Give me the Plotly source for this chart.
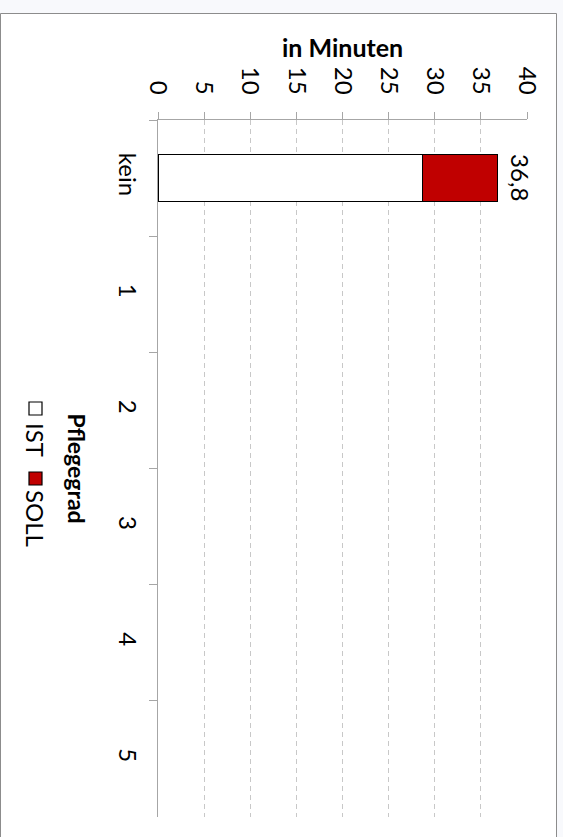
import plotly.graph_objects as go

# ---- data ----
categories = ["kein", "1", "2", "3", "4", "5"]
ist = [28.7, None, None, None, None, None]
soll = [8.1, None, None, None, None, None]
x_ticks = [0, 5, 10, 15, 20, 25, 30, 35, 40]
value_title = "in Minuten"
cat_title = "Pflegegrad"
series_names = ["IST", "SOLL"]
colors = ["#ffffff", "#c00000"]

W, H = 563, 837
L, R, T, B = 158, 527, 120, 817
FONT = "Lato, 'Open Sans', sans-serif"
FS = 24


def fx(px):
    return (px - L) / (R - L)


def fy(py):
    return (B - py) / (B - T)


totals = [(a + b) if (a is not None and b is not None) else None for a, b in zip(ist, soll)]

fig = go.Figure()
fig.add_trace(go.Bar(y=categories, x=ist, name=series_names[0], orientation="h",
                     marker=dict(color=colors[0], line=dict(color="#000000", width=1.2)),
                     width=0.4, showlegend=False))
fig.add_trace(go.Bar(y=categories, x=soll, name=series_names[1], orientation="h",
                     marker=dict(color=colors[1], line=dict(color="#000000", width=1.2)),
                     width=0.4, showlegend=False))

annotations = []
for c, t in zip(categories, totals):
    if t is None:
        continue
    annotations.append(dict(x=t, y=c, xref="x", yref="y", text=f"{t:.1f}".replace(".", ","),
                            textangle=90, showarrow=False, xanchor="left", yanchor="middle",
                            xshift=7, font=dict(family=FONT, size=FS, color="#000")))

# axis titles
annotations.append(dict(x=0.5, y=fy(47), xref="paper", yref="paper", text=f"<b>{value_title}</b>",
                        showarrow=False, xanchor="center", yanchor="middle",
                        font=dict(family=FONT, size=25, color="#000")))
annotations.append(dict(x=fx(77), y=0.5, xref="paper", yref="paper", text=f"<b>{cat_title}</b>",
                        textangle=90, showarrow=False, xanchor="center", yanchor="middle",
                        font=dict(family=FONT, size=23, color="#000")))

# legend (rotated)
annotations.append(dict(x=fx(36), y=fy(440), xref="paper", yref="paper", text=series_names[0],
                        textangle=90, showarrow=False, xanchor="center", yanchor="middle",
                        font=dict(family=FONT, size=FS, color="#000")))
annotations.append(dict(x=fx(36), y=fy(519), xref="paper", yref="paper", text=series_names[1],
                        textangle=90, showarrow=False, xanchor="center", yanchor="middle",
                        font=dict(family=FONT, size=FS, color="#000")))

shapes = [
    dict(type="rect", xref="paper", yref="paper", x0=fx(0.5), x1=fx(556.5), y0=fy(860), y1=fy(13.5),
         fillcolor="#ffffff", line=dict(color="#8c8c8c", width=1), layer="below"),
    dict(type="rect", xref="paper", yref="paper", x0=fx(29), x1=fx(42), y0=fy(415), y1=fy(402),
         fillcolor=colors[0], line=dict(color="#000000", width=1.2)),
    dict(type="rect", xref="paper", yref="paper", x0=fx(29), x1=fx(42), y0=fy(485), y1=fy(472),
         fillcolor=colors[1], line=dict(color="#000000", width=1.2)),
]

fig.update_layout(
    width=W, height=H,
    margin=dict(l=L, r=W - R, t=T, b=H - B, pad=0),
    paper_bgcolor="#f8f9fc",
    plot_bgcolor="rgba(0,0,0,0)",
    barmode="stack",
    bargap=0.6,
    showlegend=False,
    font=dict(family=FONT, size=FS, color="#000"),
    annotations=annotations,
    shapes=shapes,
    xaxis=dict(side="top", range=[0, 40], tickvals=x_ticks, tickangle=90,
               ticks="outside", ticklen=7, tickcolor="#a6a6a6", tickwidth=1,
               showline=True, linecolor="#a6a6a6", linewidth=1,
               showgrid=True, gridcolor="#c8c8c8", gridwidth=1, griddash="5px,4px",
               zeroline=False, ticklabelstandoff=9,
               tickfont=dict(family=FONT, size=FS, color="#000")),
    yaxis=dict(type="category", categoryorder="array", categoryarray=categories,
               autorange="reversed", tickangle=90, tickson="boundaries",
               ticks="outside", ticklen=8, tickcolor="#a6a6a6", tickwidth=1,
               showline=True, linecolor="#a6a6a6", linewidth=1,
               showgrid=False, zeroline=False, ticklabelstandoff=9,
               tickfont=dict(family=FONT, size=FS, color="#000")),
)

fig.write_html(
    "out.html",
    config={"displayModeBar": False},
    post_script="document.body.style.margin='0';document.body.style.overflow='hidden';",
)
